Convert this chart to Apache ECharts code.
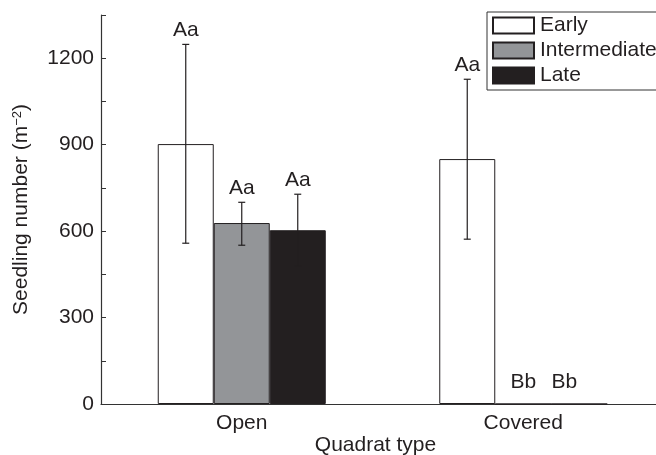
<!DOCTYPE html>
<html>
<head>
<meta charset="utf-8">
<script src="https://cdn.jsdelivr.net/npm/echarts@6/dist/echarts.min.js"></script>
<style>
  html, body { margin: 0; padding: 0; background: #fff; }
  #chart { width: 656px; height: 455px; }
</style>
</head>
<body>
<div id="chart"></div>
<script>
const categories = ['Open', 'Covered']
const early = [902, 850]
const intermediate = [628, 0]
const late = [603, 0]
const earlyLow = [558, 572]
const earlyHigh = [1248, 1127]
const intermediateLow = [551, 0]
const intermediateHigh = [700, 0]
const lateLow = [478, 0]
const lateHigh = [728, 0]
const earlyLetters = ['Aa', 'Aa']
const intermediateLetters = ['Aa', 'Bb']
const lateLetters = ['Aa', 'Bb']
const yTickLabels = [0, 300, 600, 900, 1200]

const FONT = 'Liberation Sans'
const INK = '#231f20'
const BAR_W = 56
const FS = 21

let myChart = echarts.init(document.getElementById('chart'))

function errorSeries(name, low, high, letters, offset) {
  return {
    name: name,
    type: 'custom',
    z: 5,
    data: categories.map((c, i) => [i, low[i], high[i]]),
    renderItem: function (params, api) {
      let i = api.value(0)
      let lo = api.value(1)
      let hi = api.value(2)
      let pLo = api.coord([i, lo])
      let pHi = api.coord([i, hi])
      let x = pLo[0] + offset
      let children = []
      if (hi > lo) {
        children.push(
          {type: 'line', shape: {x1: x, y1: pLo[1], x2: x, y2: pHi[1]}, style: {stroke: INK, lineWidth: 1.2}},
          {type: 'line', shape: {x1: x - 3.5, y1: pHi[1], x2: x + 3.5, y2: pHi[1]}, style: {stroke: INK, lineWidth: 1.2}},
          {type: 'line', shape: {x1: x - 3.5, y1: pLo[1], x2: x + 3.5, y2: pLo[1]}, style: {stroke: INK, lineWidth: 1.2}}
        )
      }
      let gap = hi > 0 ? 4 : 11
      let dx = (hi === 0 && offset > 0) ? -15 : 0
      children.push({
        type: 'text',
        style: {
          text: letters[params.dataIndex],
          x: x + dx,
          y: pHi[1] - gap,
          align: 'center',
          verticalAlign: 'bottom',
          fontSize: FS,
          fontFamily: FONT,
          fill: INK
        }
      })
      return {type: 'group', children: children}
    }
  }
}

let option = {
  animation: false,
  textStyle: {fontFamily: FONT, color: INK},
  grid: {left: 101, right: -8, top: 15, bottom: 51, containLabel: false, outerBoundsMode: 'none'},
  legend: {
    orient: 'vertical',
    left: 487,
    top: 12,
    padding: [3, 30, 4, 5],
    itemWidth: 41,
    itemHeight: 16,
    itemGap: 4,
    icon: 'rect',
    borderColor: '#333',
    borderWidth: 1,
    data: ['Early', 'Intermediate', 'Late'],
    textStyle: {fontSize: FS, fontFamily: FONT, color: INK, lineHeight: 20, padding: [0, 0, 0, 1]}
  },
  xAxis: [
    {
      type: 'category',
      data: categories,
      name: 'Quadrat type',
      nameLocation: 'middle',
      nameGap: 31,
      nameMoveOverlap: false,
      nameTextStyle: {fontSize: FS, fontFamily: FONT, color: INK, padding: [0, 14, 0, 0]},
      axisLine: {lineStyle: {color: '#333', width: 1.2}},
      axisTick: {show: false},
      axisLabel: {fontSize: FS, fontFamily: FONT, color: INK, margin: 9}
    },
    {
      type: 'category',
      data: ['', '', '', ''],
      position: 'bottom',
      axisLine: {show: false},
      axisLabel: {show: false},
      axisTick: {inside: true, length: 6, lineStyle: {color: '#333'}}
    }
  ],
  yAxis: {
    type: 'value',
    min: 0,
    max: 1350,
    interval: 150,
    name: 'Seedling number (m{sup|−2})',
    nameLocation: 'middle',
    nameGap: 69,
    nameTextStyle: {
      fontSize: FS,
      fontFamily: FONT,
      color: INK,
      rich: {
        sup: {fontSize: 13, fontFamily: FONT, color: INK, verticalAlign: 'top', lineHeight: 14}
      }
    },
    axisLine: {show: true, lineStyle: {color: '#333', width: 1.2}},
    axisTick: {show: true, inside: true, length: 5, lineStyle: {color: '#333'}},
    splitLine: {show: false},
    axisLabel: {
      fontSize: FS,
      fontFamily: FONT,
      color: INK,
      margin: 7,
      formatter: function (v) {
        return yTickLabels.indexOf(v) >= 0 ? String(v) : ''
      }
    }
  },
  series: [
    {
      name: 'Early',
      type: 'bar',
      data: early,
      barWidth: BAR_W,
      barGap: '0%',
      itemStyle: {color: '#ffffff', borderColor: INK, borderWidth: 1}
    },
    {
      name: 'Intermediate',
      type: 'bar',
      data: intermediate,
      barWidth: BAR_W,
      barGap: '0%',
      itemStyle: {color: '#939598', borderColor: INK, borderWidth: 1}
    },
    {
      name: 'Late',
      type: 'bar',
      data: late,
      barWidth: BAR_W,
      barGap: '0%',
      itemStyle: {color: INK, borderColor: INK, borderWidth: 1}
    },
    errorSeries('earlyErr', earlyLow, earlyHigh, earlyLetters, -BAR_W),
    errorSeries('intermediateErr', intermediateLow, intermediateHigh, intermediateLetters, 0),
    errorSeries('lateErr', lateLow, lateHigh, lateLetters, BAR_W)
  ]
}
myChart.setOption(option)
</script>
</body>
</html>
